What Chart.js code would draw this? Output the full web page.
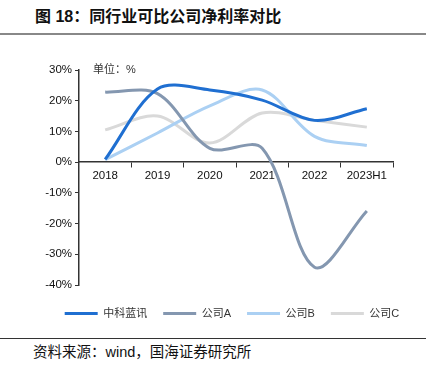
<!DOCTYPE html>
<html>
<head>
<meta charset="utf-8">
<script src="https://cdn.jsdelivr.net/npm/chart.js@4/dist/chart.umd.min.js"></script>
<style>
  body { margin: 0; background: #fff; width: 435px; height: 366px; position: relative; overflow: hidden;
         font-family: "Liberation Sans", "Noto Sans CJK SC", sans-serif; }
  #title { position: absolute; left: 35px; top: 3px; font-size: 16px; font-weight: bold; color: #111;
           font-family: "Liberation Sans", "Noto Sans CJK SC", sans-serif; }
  #topline { position: absolute; left: 0; top: 33px; width: 426px; height: 2px; background: #888; }
  #unit { position: absolute; left: 93px; top: 60px; font-size: 11px; color: #333; }
  #box { position: absolute; left: 0; top: 40px; width: 435px; height: 289px; }
  #botline { position: absolute; left: 0; top: 338px; width: 426px; height: 1px; background: #333; }
  #source { position: absolute; left: 33px; top: 340px; font-size: 14.5px; color: #111; }
</style>
</head>
<body>
<div id="title">图 18：同行业可比公司净利率对比</div>
<div id="topline"></div>
<div id="box"><canvas id="myChart"></canvas></div>
<div id="unit">单位：%</div>
<div id="botline"></div>
<div id="source">资料来源：wind，国海证券研究所</div>
<script>
const years = ['2018', '2019', '2020', '2021', '2022', '2023H1'];
const zhongke = [0.9, 23.8, 23.5, 20.2, 13.6, 17.4];
const companyA = [22.8, 22.3, 4.5, 4.5, -34.2, -15.9];
const companyB = [0.8, 9.5, 18.3, 23.5, 8.4, 5.4];
const companyC = [10.5, 15.0, 6.2, 16.0, 13.6, 11.4];

const ctx = document.getElementById('myChart').getContext('2d');

function line(label, data, color) {
    return {
        label: label,
        data: data,
        borderColor: color,
        backgroundColor: color,
        borderWidth: 3,
        pointRadius: 0,
        tension: 0.33,
        fill: false,
    };
}

const chart = new Chart(ctx, {
    type: 'line',
    data: {
        labels: years,
        datasets: [
            line('中科蓝讯', zhongke, '#1f6fd1'),
            line('公司A', companyA, '#8497b0'),
            line('公司B', companyB, '#abd0f3'),
            line('公司C', companyC, '#d9d9d9'),
        ],
    },
    options: {
        responsive: true,
        maintainAspectRatio: false,
        animation: false,
        layout: { padding: { left: 29, right: 0, top: 30, bottom: 0 } },
        plugins: {
            legend: {
                position: 'bottom',
                labels: {
                    usePointStyle: true,
                    pointStyle: 'line',
                    pointStyleWidth: 33,
                    padding: 16,
                    color: '#333',
                    font: { size: 11, family: '"Liberation Sans", "Noto Sans CJK SC", sans-serif' },
                },
            },
            tooltip: { enabled: false },
        },
        scales: {
            x: {
                position: { y: 0 },
                offset: true,
                grid: { drawOnChartArea: false, drawTicks: true, tickLength: 5, color: '#333', offset: true },
                border: { display: true, color: '#333', width: 1.5 },
                ticks: { color: '#111', font: { size: 11.5, family: '"Liberation Sans", sans-serif' }, padding: 2, maxRotation: 0 },
            },
            xSpace: {
                type: 'category',
                axis: 'x',
                position: 'bottom',
                afterFit: (s) => { s.height = 7; },
                ticks: { display: false },
                grid: { display: false },
                border: { display: false },
            },
            y: {
                min: -40,
                max: 30,
                afterFit: (s) => { s.width = 50; },
                ticks: {
                    stepSize: 10,
                    color: '#111',
                    font: { size: 11.5, family: '"Liberation Sans", sans-serif' },
                    padding: 3,
                    callback: (v) => v + '%',
                },
                grid: { drawOnChartArea: false, drawTicks: true, tickLength: 4, color: '#333' },
                border: { display: true, color: '#333', width: 1.5 },
            },
            yRight: {
                position: 'right',
                afterFit: (s) => { s.width = 42; },
                ticks: { display: false },
                grid: { display: false },
                border: { display: false },
            },
        },
    },
});
</script>
</body>
</html>
